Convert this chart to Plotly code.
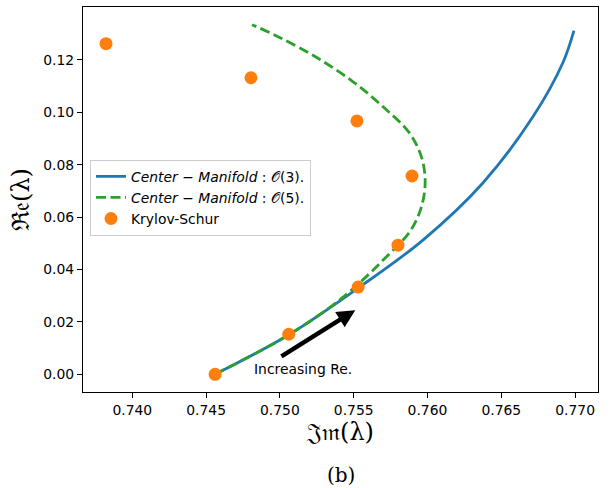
import plotly.graph_objects as go

# Center-manifold O(3) curve (Im, Re)
cm3_im = [0.74560, 0.75055, 0.75529, 0.75969, 0.76375, 0.76714, 0.76917, 0.76992]
cm3_re = [0.0, 0.01491, 0.03289, 0.05124, 0.07304, 0.09828, 0.11893, 0.13117]

# Center-manifold O(5) curve
cm5_im = [0.74560, 0.75055, 0.75428, 0.75699, 0.75896, 0.75977, 0.75970, 0.75882,
          0.75699, 0.75496, 0.75252, 0.75001, 0.74811]
cm5_re = [0.0, 0.01491, 0.02945, 0.04359, 0.05583, 0.06845, 0.08069, 0.09178,
          0.10210, 0.11166, 0.12084, 0.12849, 0.13346]

# Krylov-Schur eigenvalues
ks_im = [0.73822, 0.74804, 0.75522, 0.75895, 0.75800, 0.75530, 0.75060, 0.74561]
ks_re = [0.1262, 0.1132, 0.0967, 0.0757, 0.0493, 0.0333, 0.0153, 0.0]

x_ticks = [0.740, 0.745, 0.750, 0.755, 0.760, 0.765, 0.770]
y_ticks = [0.00, 0.02, 0.04, 0.06, 0.08, 0.10, 0.12]

arrow_head = (0.7551, 0.0245)
arrow_tail = (0.7500, 0.0065)
note_pos = (0.7481, 0.0019)

fig = go.Figure()
fig.add_trace(go.Scatter(x=cm3_im, y=cm3_re, mode="lines",
                         line=dict(color="#1f77b4", width=2.8, shape="spline", smoothing=1.0),
                         name="<i>Center − Manifold</i> : 𝒪(3)."))
fig.add_trace(go.Scatter(x=cm5_im, y=cm5_re, mode="lines",
                         line=dict(color="#2ca02c", width=2.8, dash="10px,4.5px",
                                   shape="spline", smoothing=1.0),
                         name="<i>Center − Manifold</i> : 𝒪(5)."))
fig.add_trace(go.Scatter(x=ks_im, y=ks_re, mode="markers",
                         marker=dict(color="#ff7f0e", size=13),
                         name="Krylov-Schur"))

fig.add_annotation(x=arrow_head[0], y=arrow_head[1], ax=arrow_tail[0], ay=arrow_tail[1],
                   xref="x", yref="y", axref="x", ayref="y", text="",
                   showarrow=True, arrowhead=2, arrowsize=0.8, arrowwidth=4.5,
                   arrowcolor="black", standoff=0, startstandoff=0)
fig.add_annotation(x=note_pos[0], y=note_pos[1], xref="x", yref="y",
                   text="Increasing Re.", showarrow=False, xanchor="left", yanchor="middle",
                   font=dict(family="DejaVu Sans", size=13.9, color="black"))
fig.add_annotation(x=0.5, y=-0.215, xref="paper", yref="paper", text="(b)",
                   showarrow=False, xanchor="center", yanchor="middle",
                   font=dict(family="DejaVu Serif", size=20, color="black"))

axis_common = dict(showline=True, linecolor="black", linewidth=1.1, mirror=True,
                   ticks="outside", ticklen=5, tickwidth=1.1, tickcolor="black",
                   showgrid=False, zeroline=False,
                   tickfont=dict(family="DejaVu Sans", size=13.9, color="black"))

fig.update_xaxes(range=[0.73666, 0.77155], tickvals=x_ticks,
                 ticktext=[f"{v:.3f}" for v in x_ticks],
                 title=dict(text="𝔍𝔪(λ)", standoff=4,
                            font=dict(family="DejaVu Serif", size=24, color="black")),
                 **axis_common)
fig.update_yaxes(range=[-0.00675, 0.1402], tickvals=y_ticks,
                 ticktext=[f"{v:.2f}" for v in y_ticks],
                 title=dict(text="ℜ𝔢(λ)", standoff=6,
                            font=dict(family="DejaVu Serif", size=24, color="black")),
                 **axis_common)

fig.update_layout(
    width=611, height=488,
    margin=dict(l=83, r=13, t=7, b=96),
    plot_bgcolor="white", paper_bgcolor="white",
    font=dict(family="DejaVu Sans", size=13.9, color="black"),
    legend=dict(x=0.0136, y=0.603, xanchor="left", yanchor="top",
                bgcolor="rgba(255,255,255,0.8)", bordercolor="#cccccc", borderwidth=1,
                font=dict(family="DejaVu Sans", size=13.9, color="black"),
                tracegroupgap=0, itemwidth=30),
)

fig.write_html("out.html")
